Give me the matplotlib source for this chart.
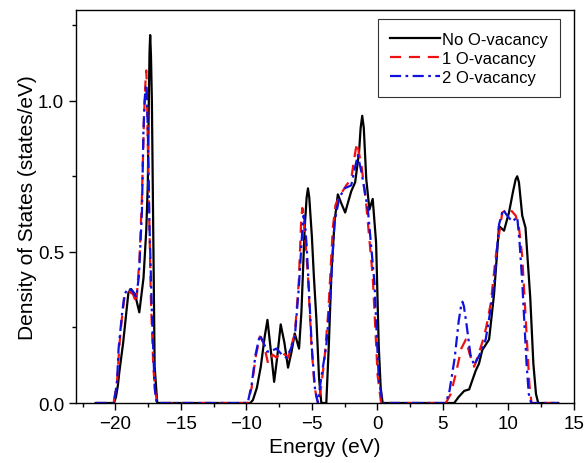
import matplotlib
matplotlib.use('Agg')
import matplotlib.pyplot as plt
from matplotlib.ticker import MultipleLocator

plt.rcParams['font.family'] = ['Liberation Sans', 'DejaVu Sans']

# No O-vacancy (black)
e_none = [-21.5, -20.1, -19.95, -19.8, -19.7, -19.4, -19.16, -19.0, -18.8, -18.5, -18.17, -17.85, -17.64, -17.52, -17.44,
          -17.39, -17.34, -17.28, -17.21, -17.09, -17.0, -16.8,
          -9.7, -9.5, -9.2, -8.9, -8.6, -8.39, -8.15, -7.88, -7.65, -7.38, -7.1, -6.82, -6.55, -6.31, -5.98, -5.8, -5.55,
          -5.4, -5.30, -5.2, -5.0, -4.85, -4.66, -4.45, -4.28, -3.9, -3.7, -3.52, -3.27, -3.02, -2.75, -2.46, -2.2, -2.0,
          -1.7, -1.4, -1.28, -1.16, -1.04, -0.85, -0.61, -0.36, -0.1, 0.1, 0.25, 0.4,
          5.86, 6.2, 6.62, 7.0, 7.5, 7.75, 8.0, 8.52, 8.9, 9.28, 9.66, 10.04, 10.35, 10.55, 10.67, 10.8, 11.05, 11.3, 11.66,
          11.9, 12.1, 12.27, 13.8]
dos_none = [0, 0, 0.02, 0.06, 0.1, 0.2, 0.3, 0.365, 0.377, 0.36, 0.30, 0.413, 0.57, 0.725, 1.01,
            1.16, 1.217, 1.15, 1.0, 0.5, 0.12, 0,
            0, 0.01, 0.05, 0.12, 0.22, 0.275, 0.18, 0.07, 0.15, 0.26, 0.2, 0.117, 0.17, 0.23, 0.18, 0.3, 0.58,
            0.68, 0.71, 0.68, 0.55, 0.42, 0.28, 0.08, 0, 0, 0.2, 0.42, 0.60, 0.69, 0.66, 0.63, 0.67, 0.70,
            0.73, 0.83, 0.91, 0.95, 0.91, 0.74, 0.64, 0.675, 0.53, 0.19, 0.05, 0,
            0, 0.02, 0.04, 0.045, 0.107, 0.13, 0.175, 0.21, 0.36, 0.585, 0.57, 0.63, 0.70, 0.74, 0.75, 0.73, 0.62, 0.58, 0.35,
            0.13, 0.03, 0, 0]

# 1 O-vacancy (red)
e_one = [-21.5, -20.13, -19.87, -19.67, -19.5, -19.29, -19.0, -18.65, -18.4, -18.15, -17.97, -17.8, -17.7, -17.64, -17.59,
         -17.54, -17.46, -17.29, -17.1, -16.96, -16.8,
         -9.9, -9.6, -9.3, -8.97, -8.7, -8.34, -8.0, -7.7, -7.38, -7.07, -6.8, -6.5, -6.3, -6.0, -5.82, -5.73, -5.64, -5.48,
         -5.3, -5.04, -4.79, -4.54, -4.3, -4.03, -3.75, -3.4, -3.2, -2.8, -2.38, -2.0, -1.8, -1.65, -1.54, -1.42, -1.2,
         -0.86, -0.36, 0.02, 0.28,
         5.22, 5.6, 6.0, 6.4, 6.75, 7.05, 7.38, 7.7, 8.0, 8.3, 8.65, 9.03, 9.53, 10.04, 10.55, 10.8, 11.05, 11.25, 11.43,
         11.6, 11.76, 13.8]
dos_one = [0, 0, 0.07, 0.2, 0.28, 0.355, 0.37, 0.36, 0.33, 0.48, 0.68, 0.96, 1.06, 1.10, 1.05,
           0.90, 0.72, 0.35, 0.12, 0.04, 0,
           0, 0.05, 0.15, 0.22, 0.2, 0.13, 0.16, 0.15, 0.17, 0.16, 0.15, 0.2, 0.23, 0.4, 0.6, 0.645, 0.62, 0.53,
           0.42, 0.195, 0.05, 0, 0.05, 0.15, 0.3, 0.58, 0.655, 0.69, 0.72, 0.74, 0.8, 0.84, 0.86, 0.83, 0.78,
           0.66, 0.42, 0.09, 0,
           0, 0.03, 0.1, 0.18, 0.21, 0.16, 0.12, 0.16, 0.2, 0.25, 0.33, 0.485, 0.63, 0.645, 0.62, 0.58, 0.485, 0.33, 0.19,
           0.06, 0, 0]

# 2 O-vacancy (blue)
e_two = [-21.5, -20.1, -19.87, -19.75, -19.5, -19.3, -19.0, -18.7, -18.4, -18.2, -17.97, -17.85, -17.75, -17.66, -17.6,
         -17.52, -17.4, -17.21, -17.0, -16.85,
         -9.9, -9.6, -9.3, -8.97, -8.7, -8.4, -8.21, -7.7, -7.3, -6.94, -6.6, -6.3, -6.0, -5.72, -5.63, -5.54, -5.4, -5.2,
         -5.0, -4.75, -4.54, -4.3, -3.9, -3.6, -3.27, -2.9, -2.5, -2.0, -1.7, -1.5, -1.2, -0.73, -0.23, 0.1, 0.4,
         5.22, 5.5, 5.9, 6.2, 6.38, 6.49, 6.6, 6.8, 7.1, 7.38, 7.8, 8.26, 8.6, 8.9, 9.28, 9.58, 9.9, 10.29, 10.67, 10.85,
         11.05, 11.38, 11.55, 11.73, 13.8]
dos_two = [0, 0, 0.07, 0.18, 0.29, 0.36, 0.38, 0.37, 0.35, 0.42, 0.63, 0.91, 1.01, 1.05, 1.02,
           0.90, 0.6, 0.3, 0.05, 0,
           0, 0.06, 0.16, 0.225, 0.2, 0.17, 0.17, 0.18, 0.16, 0.15, 0.18, 0.22, 0.38, 0.58, 0.62, 0.6, 0.52, 0.35,
           0.18, 0.04, 0, 0.08, 0.19, 0.35, 0.60, 0.68, 0.71, 0.72, 0.78, 0.82, 0.76, 0.64, 0.40, 0.08, 0,
           0, 0.04, 0.15, 0.27, 0.32, 0.335, 0.32, 0.26, 0.16, 0.125, 0.16, 0.21, 0.3, 0.39, 0.59, 0.64, 0.62, 0.60, 0.615, 0.53,
           0.4, 0.13, 0.03, 0, 0]

fig = plt.figure(figsize=(5.86, 4.64), dpi=100)
ax = fig.add_axes([0.1297, 0.1293, 0.8498, 0.847])

ax.plot(e_none, dos_none, color='black', lw=1.6, label='No O-vacancy')
ax.plot(e_one, dos_one, color='#ee1111', lw=1.6, dashes=(5, 3.5), label='1 O-vacancy')
ax.plot(e_two, dos_two, color='#1111dd', lw=1.6, dashes=(5, 2, 1.2, 2), label='2 O-vacancy')

ax.set_xlim(-23, 15)
ax.set_ylim(0, 1.3)
ax.xaxis.set_major_locator(MultipleLocator(5))
ax.xaxis.set_minor_locator(MultipleLocator(2.5))
ax.yaxis.set_major_locator(MultipleLocator(0.5))
ax.yaxis.set_minor_locator(MultipleLocator(0.25))
ax.yaxis.set_major_formatter(plt.FormatStrFormatter('%.1f'))
ax.tick_params(which='major', direction='out', length=5, width=1, labelsize=13.5)
ax.tick_params(which='minor', direction='out', length=3, width=1)
for s in ax.spines.values():
    s.set_linewidth(1)

ax.set_xlabel('Energy (eV)', fontsize=15, labelpad=4)
ax.set_ylabel('Density of States (states/eV)', fontsize=15, labelpad=1)

leg = ax.legend(loc='upper right', fontsize=12, frameon=True, fancybox=False, edgecolor='black',
                handlelength=3, handletextpad=0.1, labelspacing=0.25, borderpad=0.75, borderaxespad=0,
                bbox_to_anchor=(0.972, 0.977))
leg.get_frame().set_linewidth(0.8)

fig.savefig('out.png', dpi=100)
